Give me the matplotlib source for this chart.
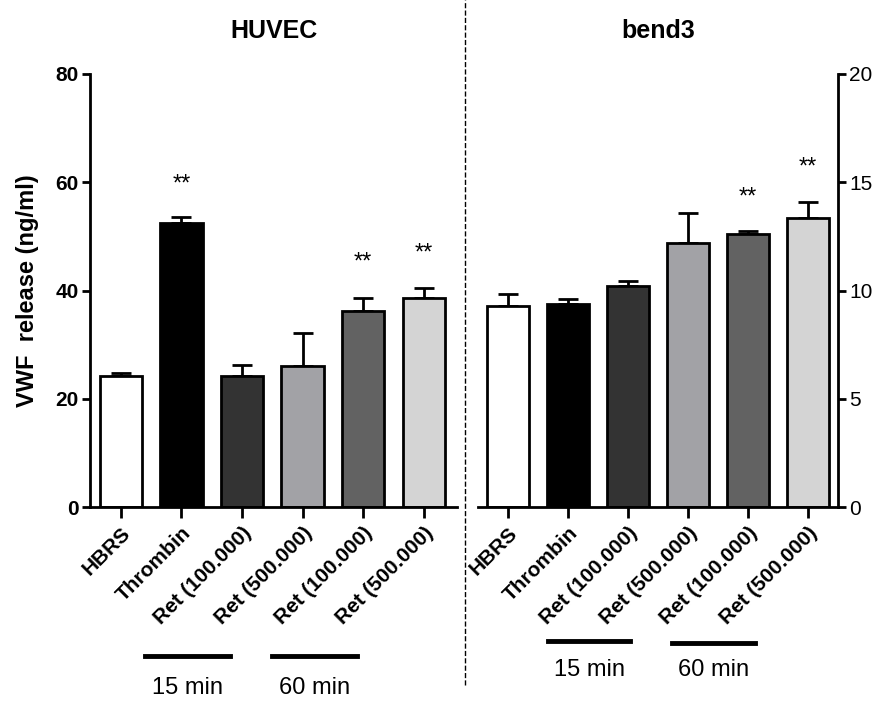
import numpy as np
import matplotlib
matplotlib.use('Agg')
import matplotlib.pyplot as plt

plt.rcParams['font.family'] = ['Liberation Sans', 'DejaVu Sans']

labels = ['HBRS', 'Thrombin', 'Ret (100.000)', 'Ret (500.000)', 'Ret (100.000)', 'Ret (500.000)']
colors = ['#ffffff', '#000000', '#333333', '#a2a2a6', '#626262', '#d4d4d4']

huvec_mean = [24.2, 52.5, 24.2, 26.1, 36.2, 38.6]
huvec_err = [0.6, 1.1, 2.0, 6.1, 2.4, 1.9]
huvec_stars = [None, 59.5, None, None, 45.1, 46.8]

bend3_mean = [9.3, 9.38, 10.2, 12.2, 12.6, 13.35]
bend3_err = [0.56, 0.22, 0.24, 1.38, 0.15, 0.74]
bend3_stars = [None, None, None, None, 14.3, 15.7]

fig = plt.figure(figsize=(8.75, 7.04), dpi=100)
ax1 = fig.add_axes([0.1029, 0.2798, 0.4194, 0.6151])
ax2 = fig.add_axes([0.5463, 0.2798, 0.4114, 0.6151])

x = np.arange(len(labels))

def draw(ax, mean, err, stars, ymax, step):
    ax.bar(x, mean, width=0.7, color=colors, edgecolor='black', linewidth=2, zorder=2)
    ax.errorbar(x, mean, yerr=[np.zeros(len(mean)), err], fmt='none', ecolor='black',
                elinewidth=2, capsize=7.5, capthick=2, zorder=1)
    for xi, s in zip(x, stars):
        if s is not None:
            ax.text(xi, s, '**', ha='center', va='center', fontsize=17)
    ax.set_ylim(0, ymax)
    ax.set_yticks(np.arange(0, ymax + 1, step))
    ax.set_xticks(x)
    ax.set_xticklabels(labels, rotation=45, ha='right', rotation_mode='anchor',
                       fontweight='bold', fontsize=15)
    ax.tick_params(axis='x', length=8, width=2, pad=4)
    ax.tick_params(axis='y', length=6, width=2, labelsize=15, pad=2)
    for lab in ax.get_yticklabels():
        lab.set_fontweight('bold')
    ax.spines['top'].set_visible(False)
    for sp in ax.spines.values():
        sp.set_linewidth(2)

draw(ax1, huvec_mean, huvec_err, huvec_stars, 80, 20)
ax1.set_xlim(-0.51, 5.55)
ax1.spines['right'].set_visible(False)
ax1.set_ylabel('VWF  release (ng/ml)', fontsize=17, fontweight='bold', labelpad=12)
ax1.set_title('HUVEC', fontsize=18, fontweight='bold', pad=26)

draw(ax2, bend3_mean, bend3_err, bend3_stars, 20, 5)
ax2.set_xlim(-0.5, 5.5)
ax2.spines['left'].set_visible(False)
ax2.yaxis.tick_right()
ax2.set_title('bend3', fontsize=18, fontweight='bold', pad=26)

# dashed divider
fig.add_artist(plt.Line2D([465 / 875, 465 / 875], [1 - 685 / 704, 1.0], transform=fig.transFigure,
                          color='black', linestyle='--', linewidth=1))

# time bars
def timebar(x0, x1, y, text, ty):
    fig.add_artist(plt.Line2D([x0 / 875, x1 / 875], [1 - y / 704, 1 - y / 704],
                              transform=fig.transFigure, color='black', linewidth=3.5))
    fig.text((x0 + x1) / 2 / 875, 1 - ty / 704, text, ha='center', va='center', fontsize=17)

timebar(145, 230, 656, '15 min', 688)
timebar(272, 357, 656, '60 min', 688)
timebar(548, 630, 641, '15 min', 670)
timebar(672, 755, 643, '60 min', 670)

fig.savefig('out.png', dpi=100)
